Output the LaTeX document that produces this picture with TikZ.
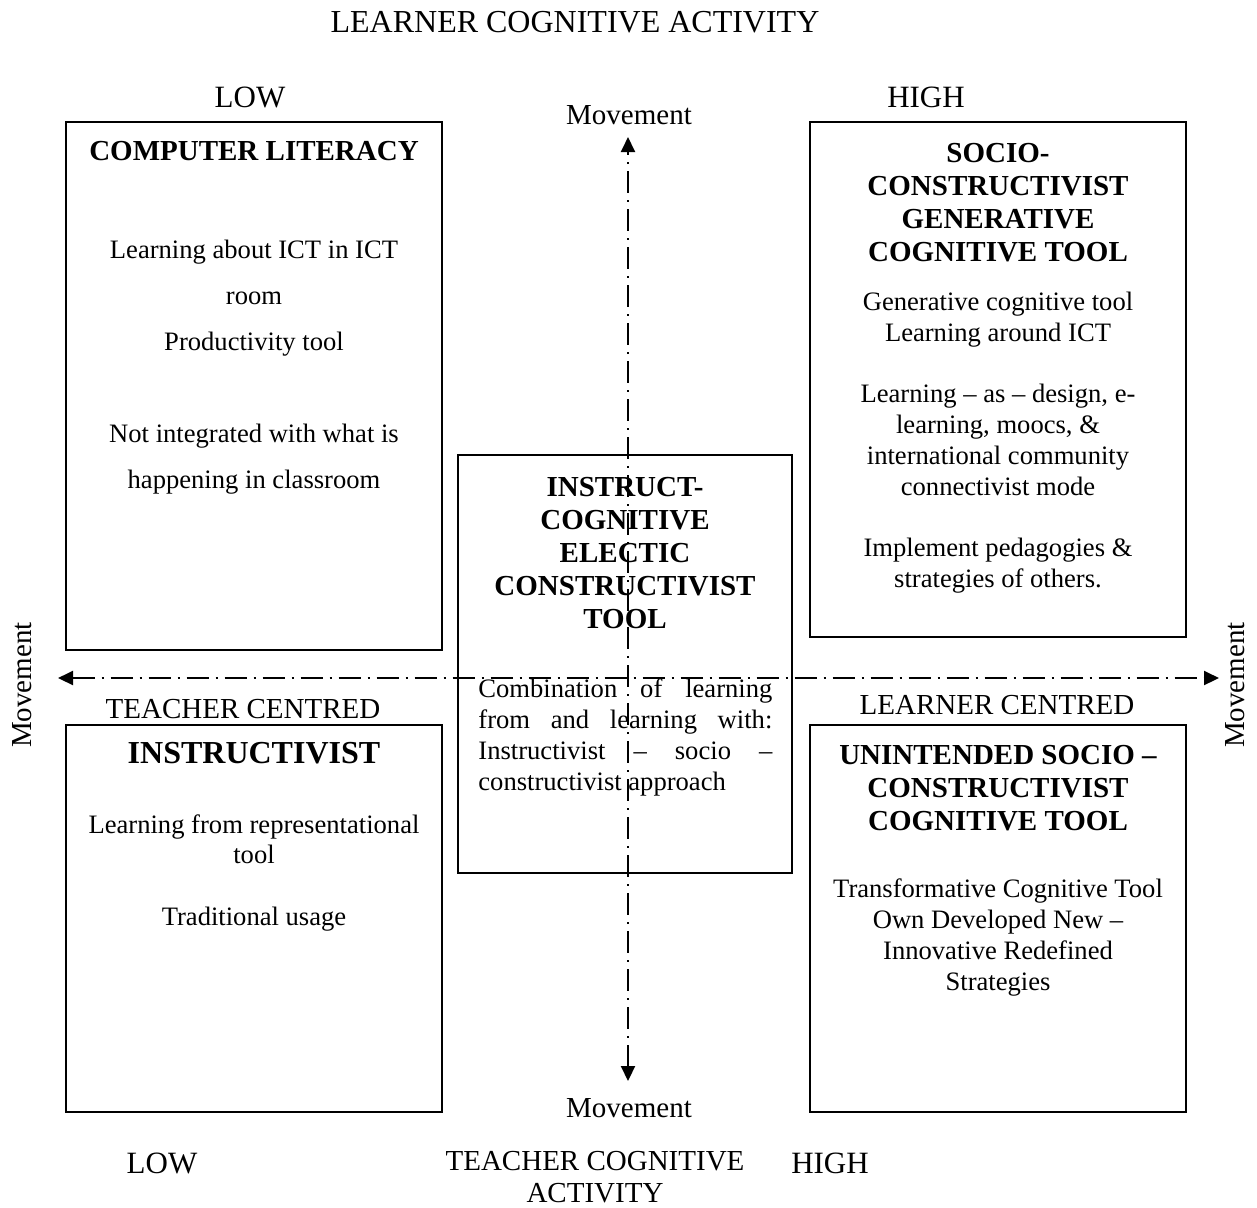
\documentclass[tikz,border=0pt]{standalone}
\usepackage{fontspec}
\setmainfont{Liberation Serif}
\usetikzlibrary{arrows.meta}

\begin{document}
\begin{tikzpicture}[x=0.5pt,y=-0.5pt]
\tikzstyle{quadbox}=[rectangle,draw=black,line width=1pt,inner sep=0pt]
\tikzstyle{boxtitle}=[align=center,anchor=base,inner sep=0pt,
                      font=\fontsize{14.5}{16.5}\selectfont\bfseries]
\tikzstyle{boxtext}=[align=center,anchor=base,inner sep=0pt,
                     font=\fontsize{13.3}{15.5}\selectfont]
\tikzstyle{axislabel}=[anchor=base,inner sep=0pt,align=center,
                       font=\fontsize{14.5}{16}\selectfont]
\tikzstyle{movearrow}=[{Triangle[length=7.5pt,width=7pt]}-{Triangle[length=7.5pt,width=7pt]},
                       line width=1pt,dash pattern=on 11pt off 3.5pt on 1pt off 3.5pt]

\useasboundingbox (0,0) rectangle (1257,1207);

% --- Axis captions (multi-line nodes sit on their last baseline) ---
\node[axislabel,font=\fontsize{16}{16}\selectfont] (learner) at (575,32) {LEARNER COGNITIVE ACTIVITY};
\node[axislabel,font=\fontsize{15.5}{16}\selectfont] (lowtop) at (250,107) {LOW};
\node[axislabel,font=\fontsize{15.5}{16}\selectfont] (hightop) at (926,107) {HIGH};
\node[axislabel] (mvtop) at (629,124) {Movement};
\node[axislabel] (mvbot) at (629,1117) {Movement};
\node[axislabel,rotate=90,anchor=center] (mvleft) at (22,685) {Movement};
\node[axislabel,rotate=90,anchor=center] (mvright) at (1235,685) {Movement};
\node[axislabel] (tcentred) at (243,718) {TEACHER CENTRED};
\node[axislabel] (lcentred) at (997,714) {LEARNER CENTRED};
\node[axislabel,font=\fontsize{15.5}{16}\selectfont] (lowbot) at (162,1173) {LOW};
\node[axislabel,font=\fontsize{15.5}{16}\selectfont] (highbot) at (830,1173) {HIGH};
\node[axislabel] (teacher) at (595,1202) {TEACHER COGNITIVE\\ACTIVITY};

% --- Computer literacy ---
\node[quadbox,minimum width=188pt,minimum height=264pt] (literacy) at (254,386) {};
\node[boxtitle] (literacyhead) at (254,160) {COMPUTER LITERACY};
\node[boxtext,font=\fontsize{13.3}{23}\selectfont] (literacybody) at (254,488)
  {Learning about ICT in ICT\\room\\Productivity tool\\[23pt]
   Not integrated with what is\\happening in classroom};

% --- Socio-constructivist generative ---
\node[quadbox,minimum width=188pt,minimum height=257.5pt] (generative) at (998,379.5) {};
\node[boxtitle] (generativehead) at (998,261)
  {SOCIO-\\CONSTRUCTIVIST\\GENERATIVE\\COGNITIVE TOOL};
\node[boxtext] (generativebody) at (998,587)
  {Generative cognitive tool\\Learning around ICT\\[15pt]
   Learning -- as -- design, e-\\learning, moocs, \&\\international community\\connectivist mode\\[15pt]
   Implement pedagogies \&\\strategies of others.};

% --- Instruct-cognitive (centre) ---
\node[quadbox,minimum width=167pt,minimum height=209pt] (electic) at (625,664) {};
\node[boxtitle] (electichead) at (625,628)
  {INSTRUCT-\\COGNITIVE\\ELECTIC\\CONSTRUCTIVIST\\TOOL};
\node[boxtext,align=left,anchor=base west] (electicbody) at (478,790)
  {\makebox[147pt][s]{Combination of learning}\\
   \makebox[147pt][s]{from and learning with:}\\
   \makebox[147pt][s]{Instructivist -- socio --}\\
   constructivist approach};

% --- Instructivist ---
\node[quadbox,minimum width=188pt,minimum height=193.5pt] (instructivist) at (254,918.5) {};
\node[boxtitle,font=\fontsize{16}{16.5}\selectfont\bfseries] (instructivisthead) at (254,763) {INSTRUCTIVIST};
\node[boxtext,font=\fontsize{13.3}{15}\selectfont] (instructivistbody) at (254,925)
  {Learning from representational\\tool\\[16pt]Traditional usage};

% --- Unintended socio-constructivist ---
\node[quadbox,minimum width=188pt,minimum height=193.5pt] (unintended) at (998,918.5) {};
\node[boxtitle] (unintendedhead) at (998,830)
  {UNINTENDED SOCIO --\\CONSTRUCTIVIST\\COGNITIVE TOOL};
\node[boxtext] (unintendedbody) at (998,990)
  {Transformative Cognitive Tool\\Own Developed New --\\Innovative Redefined\\Strategies};

% --- Movement arrows ---
\coordinate (vtop) at (628,137);
\coordinate (vbot) at (628,1081);
\coordinate (hleft) at (58,678);
\coordinate (hright) at (1219,678);
\draw[movearrow] (vbot) -- (vtop);
\draw[movearrow] (hleft) -- (hright);

\end{tikzpicture}
\end{document}
